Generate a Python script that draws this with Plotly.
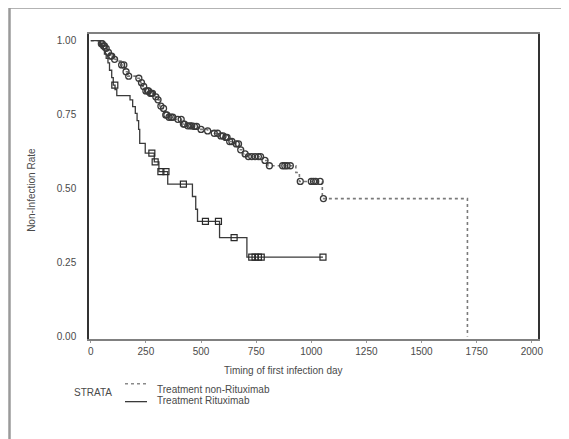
import numpy as np
import plotly.graph_objects as go

# ---------------- data ----------------
# Non-Rituximab Kaplan-Meier steps (time in days, non-infection rate)
nr_time = [0, 45, 55, 66, 76, 85, 99, 115, 137, 153, 168, 214, 225, 234, 247, 267,
           288, 300, 313, 322, 337, 349, 379, 411, 436, 461, 486, 530, 560, 584, 609,
           626, 655, 675, 691, 708, 782, 803, 930, 946, 1050, 1708]
nr_surv = [1.0, 0.99, 0.982, 0.974, 0.96, 0.948, 0.937, 0.931, 0.918, 0.895, 0.88,
           0.873, 0.858, 0.845, 0.83, 0.822, 0.81, 0.80, 0.779, 0.771, 0.749, 0.741,
           0.734, 0.718, 0.712, 0.71, 0.70, 0.695, 0.687, 0.678, 0.673, 0.659, 0.651,
           0.631, 0.617, 0.608, 0.595, 0.577, 0.554, 0.524, 0.466, 0.0]
nr_censor = [48, 52, 58, 62, 70, 80, 90, 95, 108, 140, 150, 160, 172, 218, 230, 240,
             250, 258, 262, 270, 275, 280, 295, 305, 318, 330, 340, 345, 355, 365, 372,
             395, 410, 420, 425, 440, 450, 458, 470, 480, 500, 530, 560, 575, 590, 600,
             612, 618, 630, 640, 660, 670, 680, 700, 715, 730, 745, 760, 770, 790, 810,
             870, 880, 890, 905, 950, 1000, 1010, 1020, 1040, 1055]

# Rituximab Kaplan-Meier steps
r_time = [0, 45, 55, 62, 70, 78, 85, 95, 102, 110, 118, 178, 190, 202, 210, 217, 222,
          247, 288, 309, 349, 461, 476, 484, 584, 708, 1053]
r_surv = [1.0, 0.985, 0.97, 0.955, 0.94, 0.925, 0.90, 0.875, 0.85, 0.835, 0.814, 0.80,
          0.777, 0.754, 0.73, 0.70, 0.653, 0.62, 0.59, 0.557, 0.515, 0.473, 0.43, 0.389,
          0.334, 0.268, 0.268]
r_censor = [109, 277, 292, 318, 341, 420, 520, 579, 650, 730, 745, 760, 773, 1053]

x_ticks = [0, 250, 500, 750, 1000, 1250, 1500, 1750, 2000]
y_ticks = [0.0, 0.25, 0.5, 0.75, 1.0]
y_ticktext = ["0.00", "0.25", "0.50", "0.75", "1.00"]

legend_title = "STRATA"
series_names = ["Treatment non-Rituximab", "Treatment Rituximab"]


def step_value(times, survs, t):
    idx = np.searchsorted(np.array(times), t, side="right") - 1
    return [survs[i] for i in idx]


# ---------------- layout geometry (pixels, in window coords) ----------------
OFF = 8  # page body margin
W, H = 569 - OFF, 439 - OFF
PL, PR, PT, PB = 89 - OFF, 538 - OFF, 34 - OFF, 339.3 - OFF


def px(x):
    return (x - OFF - PL) / (PR - PL)


def py(y):
    return (PB - (y - OFF)) / (PB - PT)


FONT = "Liberation Sans, Arial, Helvetica, sans-serif"
TXT = "#4a4a4a"

fig = go.Figure()

fig.add_trace(go.Scatter(
    x=nr_time, y=nr_surv, mode="lines", line_shape="hv",
    line=dict(color="#7a7a7a", width=1.6, dash="dot"),
    showlegend=False, hoverinfo="skip"))
fig.add_trace(go.Scatter(
    x=nr_censor, y=step_value(nr_time, nr_surv, nr_censor), mode="markers",
    marker=dict(symbol="circle-open", size=6, color="#3a3a3a", line=dict(width=1.3)),
    showlegend=False))

fig.add_trace(go.Scatter(
    x=r_time, y=r_surv, mode="lines", line_shape="hv",
    line=dict(color="#3a3a3a", width=1.3),
    showlegend=False, hoverinfo="skip"))
fig.add_trace(go.Scatter(
    x=r_censor, y=step_value(r_time, r_surv, r_censor), mode="markers",
    marker=dict(symbol="square-open", size=6, color="#2a2a2a", line=dict(width=1.2)),
    showlegend=False))

shapes = [
    # outer frame (top and left)
    dict(type="line", xref="paper", yref="paper", x0=px(9), x1=px(575), y0=py(7.5), y1=py(7.5),
         line=dict(color="#9a9a9a", width=2.5)),
    dict(type="line", xref="paper", yref="paper", x0=px(9.5), x1=px(9.5), y0=py(7), y1=py(445),
         line=dict(color="#9a9a9a", width=2.5)),
    # legend samples
    dict(type="line", xref="paper", yref="paper", x0=px(125), x1=px(146), y0=py(384), y1=py(384),
         line=dict(color="#8a8a8a", width=1.5, dash="3px,3px")),
    dict(type="line", xref="paper", yref="paper", x0=px(125), x1=px(147), y0=py(402), y1=py(402),
         line=dict(color="#3a3a3a", width=1.3)),
]

annotations = [
    dict(text="Timing of first infection day", xref="paper", yref="paper", x=px(283), y=py(371),
         showarrow=False, font=dict(size=10, color=TXT, family=FONT), xanchor="center", yanchor="middle"),
    dict(text="Non-Infection Rate", xref="paper", yref="paper", x=px(32), y=py(190), textangle=-90,
         showarrow=False, font=dict(size=10, color=TXT, family=FONT), xanchor="center", yanchor="middle"),
    dict(text=legend_title, xref="paper", yref="paper", x=px(93), y=py(393),
         showarrow=False, font=dict(size=10, color=TXT, family=FONT), xanchor="center", yanchor="middle"),
    dict(text=series_names[0], xref="paper", yref="paper", x=px(155), y=py(390),
         showarrow=False, font=dict(size=10, color=TXT, family=FONT), xanchor="left", yanchor="middle"),
    dict(text=series_names[1], xref="paper", yref="paper", x=px(155), y=py(401),
         showarrow=False, font=dict(size=10, color=TXT, family=FONT), xanchor="left", yanchor="middle"),
]

fig.update_layout(
    width=W, height=H,
    margin=dict(l=PL, r=W - PR, t=PT, b=H - PB, pad=0),
    paper_bgcolor="white", plot_bgcolor="white",
    font=dict(family=FONT, size=10, color=TXT),
    shapes=shapes, annotations=annotations,
    showlegend=False,
    xaxis=dict(range=[-8, 2028], tickvals=x_ticks, showgrid=False, zeroline=False,
               showline=True, linecolor="#808080", linewidth=2, mirror=True,
               ticks="outside", ticklen=2, tickcolor="#999999",
               tickfont=dict(size=10, color=TXT, family=FONT)),
    yaxis=dict(range=[-0.0088, 1.0226], tickvals=y_ticks, ticktext=y_ticktext, showgrid=False,
               zeroline=False, showline=True, linecolor="#333333", linewidth=1.5, mirror=True,
               ticks="", ticklabelstandoff=9,
               tickfont=dict(size=10, color=TXT, family=FONT)),
)

fig.write_html("out.html")
